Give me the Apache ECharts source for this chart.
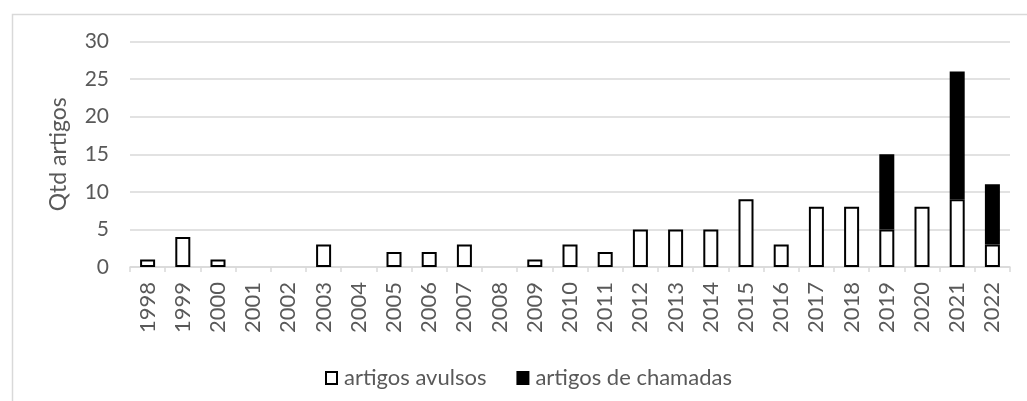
<!DOCTYPE html>
<html>
<head>
<meta charset="utf-8">
<script src="https://cdn.jsdelivr.net/npm/echarts@6/dist/echarts.min.js"></script>
<style>
html,body{margin:0;padding:0;background:#fff;}
#chart{width:1027px;height:401px;}
</style>
</head>
<body>
<div id="chart"></div>
<script>
var years = ['1998','1999','2000','2001','2002','2003','2004','2005','2006','2007','2008','2009','2010','2011','2012','2013','2014','2015','2016','2017','2018','2019','2020','2021','2022'];
var avulsos = [1,4,1,0,0,3,0,2,2,3,0,1,3,2,5,5,5,9,3,8,8,5,8,9,3];
var chamadas = [0,0,0,0,0,0,0,0,0,0,0,0,0,0,0,0,0,0,0,0,0,10,0,17,8];
var yTicks = [0,5,10,15,20,25,30];

function noZero(arr){ return arr.map(function(v){ return v === 0 ? null : v; }); }

var FONT = 'Lato, Carlito, "Liberation Sans", sans-serif';
var TXT = '#595959';
var chart = echarts.init(document.getElementById('chart'), null, {renderer:'canvas'});
chart.setOption({
  animation:false,
  backgroundColor:'#fff',
  graphic:[{type:'rect', left:10, top:12, shape:{width:1100, height:500},
    style:{fill:'none', stroke:'#d9d9d9', lineWidth:1.5}, silent:true, z:-1}],
  grid:{left:130, right:17, top:41.5, bottom:134},
  legend:{
    left:320, top:362, itemWidth:11, itemHeight:12, itemGap:30, icon:'rect',
    textStyle:{color:TXT, fontFamily:FONT, fontSize:22, padding:[0,0,0,2]},
    data:['artigos avulsos','artigos de chamadas']
  },
  xAxis:{
    type:'category', data:years,
    axisLine:{lineStyle:{color:'#d9d9d9', width:1.5}},
    axisTick:{show:true, interval:0, length:5, lineStyle:{color:'#d9d9d9', width:1.5}},
    axisLabel:{rotate:90, interval:0, margin:15, color:TXT, fontFamily:FONT, fontSize:22}
  },
  yAxis:{
    type:'value', min:yTicks[0], max:yTicks[yTicks.length-1], interval:5,
    name:'Qtd artigos', nameLocation:'middle', nameGap:60,
    nameTextStyle:{color:TXT, fontFamily:FONT, fontSize:23},
    axisLine:{show:false}, axisTick:{show:false},
    axisLabel:{margin:21, color:TXT, fontFamily:FONT, fontSize:21},
    splitLine:{lineStyle:{color:'#d9d9d9', width:1.5}}
  },
  series:[
    {name:'artigos avulsos', type:'bar', stack:'a', data:noZero(avulsos), barWidth:15,
     itemStyle:{color:'#fff', borderColor:'#000', borderWidth:2}},
    {name:'artigos de chamadas', type:'bar', stack:'a', data:noZero(chamadas), barWidth:15,
     itemStyle:{color:'#000', borderColor:'#000', borderWidth:2}}
  ]
});
</script>
</body>
</html>
